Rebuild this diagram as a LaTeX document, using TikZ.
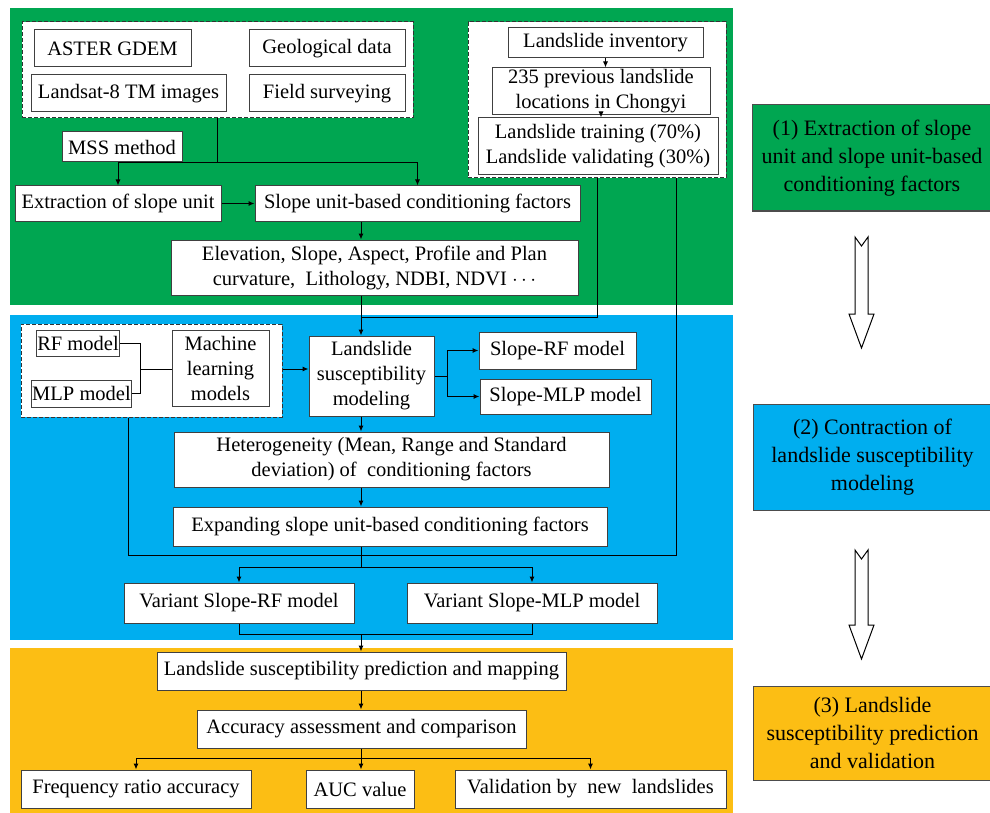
\documentclass[tikz,border=0pt]{standalone}
\usepackage{fontspec}
\setmainfont{Liberation Serif}
\usetikzlibrary{arrows.meta}

\definecolor{panelgreen}{RGB}{0,166,81}
\definecolor{panelblue}{RGB}{0,174,239}
\definecolor{panelorange}{RGB}{252,190,20}

\tikzset{
  flowbox/.style={draw=black!75, fill=white, line width=1pt, inner sep=1pt, align=center,
    font=\fontsize{20.5pt}{25pt}\selectfont},
  groupbox/.style={draw=black!80, fill=white, line width=1pt, dash pattern=on 4pt off 2pt},
  stagebox/.style={draw=black!70, line width=1pt, align=center, inner sep=1pt,
    font=\fontsize{22pt}{28pt}\selectfont},
  link/.style={line width=1pt, draw=black},
  flow/.style={link, -{Latex[length=6pt,width=5pt]}},
  blockarrow/.style={draw=black, fill=white, line width=1pt, line join=miter}
}

\begin{document}
\begin{tikzpicture}[x=1pt,y=-1pt]
\useasboundingbox (0,0) rectangle (990,813);
% panels
\fill[panelgreen] (10,8) rectangle (733,305);
\fill[panelblue] (10,315) rectangle (733,640);
\fill[panelorange] (10,648) rectangle (733,813);

% (1) data and slope units
\node[groupbox, minimum width=391pt, minimum height=96pt] (gdash) at (217.5,70) {};
\node[flowbox, minimum width=157pt, minimum height=37pt] (aster) at (112.5,48.5) {ASTER GDEM};
\node[flowbox, minimum width=156pt, minimum height=37pt] (geo) at (327,48.5) {Geological data};
\node[flowbox, minimum width=195pt, minimum height=37pt] (landsat) at (128.5,93.5) {Landsat-8 TM images};
\node[flowbox, minimum width=156pt, minimum height=37pt] (field) at (327,93.5) {Field surveying};
\node[flowbox, minimum width=120pt, minimum height=30pt] (mss) at (122,147) {MSS method};
\node[flowbox, minimum width=206pt, minimum height=35pt] (extract) at (118,203.5) {Extraction of slope unit};
\node[flowbox, minimum width=325pt, minimum height=35pt] (sufactor) at (417.5,203.5) {Slope unit-based conditioning factors};
\node[flowbox, minimum width=407pt, minimum height=55pt] (elev) at (374.5,267.5) {Elevation, Slope, Aspect, Profile and Plan\\curvature,\ \ Lithology, NDBI, NDVI $\cdots$};

\node[groupbox, minimum width=258pt, minimum height=156pt] (rdash) at (597,100) {};
\node[flowbox, minimum width=195pt, minimum height=30pt] (inventory) at (605.5,43) {Landslide inventory};
\node[flowbox, minimum width=218pt, minimum height=47pt] (prev) at (601,91.5) {235 previous landslide\\locations in Chongyi};
\node[flowbox, minimum width=240pt, minimum height=57pt] (split) at (598,146.5) {Landslide training (70\%)\\Landslide validating (30\%)};

% (2) modeling
\node[groupbox, minimum width=261pt, minimum height=93pt] (bdash) at (151.5,370.5) {};
\node[flowbox, minimum width=82pt, minimum height=26pt] (rf) at (78,343) {RF model};
\node[flowbox, minimum width=97pt, minimum height=27pt] (mlp) at (81.5,393.5) {MLP model};
\node[flowbox, minimum width=97pt, minimum height=76pt] (mlm) at (220.5,368) {Machine\\learning\\models};
\node[flowbox, minimum width=125pt, minimum height=80pt] (lsm) at (371.5,376) {Landslide\\susceptibility\\modeling};
\node[flowbox, minimum width=157pt, minimum height=37pt] (srf) at (557.5,350.5) {Slope-RF model};
\node[flowbox, minimum width=171pt, minimum height=35pt] (smlp) at (565.5,396.5) {Slope-MLP model};
\node[flowbox, minimum width=435pt, minimum height=55pt] (hetero) at (391.5,459.5) {Heterogeneity (Mean, Range and Standard\\deviation) of\ \ conditioning factors};
\node[flowbox, minimum width=434pt, minimum height=39pt] (expand) at (390,526.5) {Expanding slope unit-based conditioning factors};
\node[flowbox, minimum width=230pt, minimum height=40pt] (vrf) at (239,603) {Variant Slope-RF model};
\node[flowbox, minimum width=250pt, minimum height=40pt] (vmlp) at (532,603) {Variant Slope-MLP model};

% (3) prediction and validation
\node[flowbox, minimum width=409pt, minimum height=38pt] (lsp) at (361.5,671) {Landslide susceptibility prediction and mapping};
\node[flowbox, minimum width=329pt, minimum height=38pt] (acc) at (361.5,729) {Accuracy assessment and comparison};
\node[flowbox, minimum width=230pt, minimum height=38pt] (freq) at (136,789) {Frequency ratio accuracy};
\node[flowbox, minimum width=108pt, minimum height=38pt] (auc) at (360,789) {AUC value};
\node[flowbox, minimum width=271pt, minimum height=38pt] (valid) at (590.5,789) {Validation by\ \ new\ \ landslides};

% stage labels
\node[stagebox, fill=panelgreen, minimum width=240pt, minimum height=106pt] (stage1) at (872,158) {(1) Extraction of slope\\unit and slope unit-based\\conditioning factors};
\node[stagebox, fill=panelblue, minimum width=239pt, minimum height=106pt] (stage2) at (872.5,457) {(2) Contraction of\\landslide susceptibility\\modeling};
\node[stagebox, fill=panelorange, minimum width=239pt, minimum height=94pt] (stage3) at (872.5,733) {(3) Landslide\\susceptibility prediction\\and validation};

% junction points
\coordinate (spine) at (361,0);
\coordinate (j1) at (217.5,163);
\coordinate (t1) at (361,317);
\coordinate (t2) at (676,555);
\coordinate (t3) at (128,555);
\coordinate (t4) at (361,567);
\coordinate (t5) at (361,634);
\coordinate (t6) at (361,758);
\coordinate (t7) at (140,369);
\coordinate (t8) at (447,376);

% connectors, stage 1
\draw[link] (gdash.south) -- (j1);
\draw[flow] (j1) -| (extract.north);
\draw[flow] (j1) -| (sufactor.north);
\draw[flow] (extract) -- (sufactor);
\draw[flow] (sufactor.south -| spine) -- (elev.north -| spine);
\draw[flow] (inventory.south) -- (inventory.south |- prev.north);
\draw[flow] (prev.south) -- (prev.south |- split.north);
\draw[link] (rdash.south) |- (t1);
\draw[flow] (elev.south -| spine) -- (lsm.north -| spine);

% connectors, stage 2
\draw[link] (rf.east) -| (t7);
\draw[link] (mlp.east) -| (t7);
\draw[link] (t7) -- (t7 -| mlm.west);
\draw[flow] (bdash.east |- t7) -- (t7 -| lsm.west);
\draw[link] (lsm.east) -- (t8);
\draw[flow] (t8) |- (srf.west);
\draw[flow] (t8) |- (smlp.west);
\draw[flow] (lsm.south -| spine) -- (hetero.north -| spine);
\draw[flow] (hetero.south -| spine) -- (expand.north -| spine);
\draw[link] (t2 |- rdash.south) -- (t2) -- (t3) -- (t3 |- bdash.south);
\draw[link] (expand.south -| spine) -- (t4);
\draw[flow] (t4) -| (vrf.north);
\draw[flow] (t4) -| (vmlp.north);
\draw[link] (vrf.south) |- (t5);
\draw[link] (vmlp.south) |- (t5);
\draw[flow] (t5) -- (lsp.north -| spine);

% connectors, stage 3
\draw[flow] (lsp.south -| spine) -- (acc.north -| spine);
\draw[link] (acc.south -| spine) -- (t6);
\draw[flow] (t6) -| (freq.north);
\draw[flow] (t6) -- (auc.north -| t6);
\draw[flow] (t6) -| (valid.north);

% hollow arrows between stages
\draw[blockarrow] (855,237) -- (861.5,246) -- (868,237) -- (868,314) -- (874,314)
  -- (861.5,348) -- (849,314) -- (855,314) -- cycle;
\draw[blockarrow] (855,550) -- (861.5,559) -- (868,550) -- (868,625) -- (874,625)
  -- (861.5,659) -- (849,625) -- (855,625) -- cycle;
\end{tikzpicture}
\end{document}
